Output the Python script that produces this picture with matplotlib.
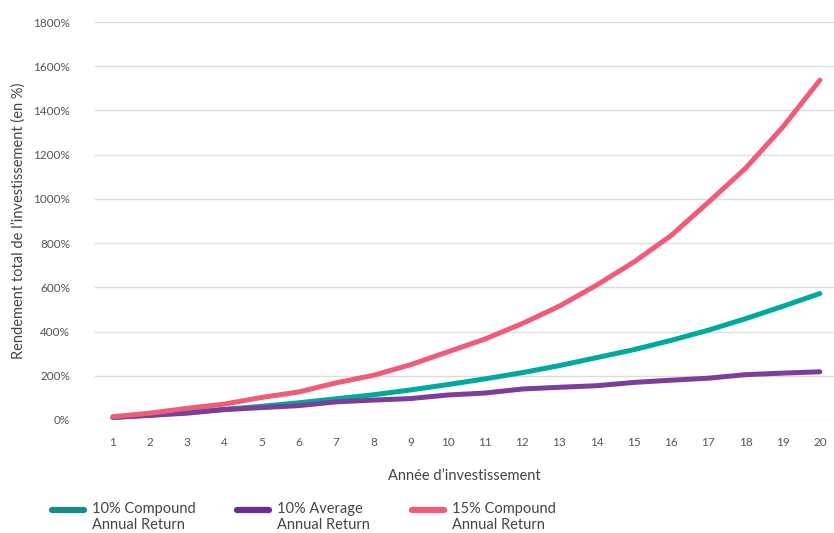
import matplotlib; matplotlib.use("Agg")
import matplotlib.pyplot as plt
from matplotlib.lines import Line2D

years = list(range(1, 21))
compound_10 = [12, 22, 34, 48, 62, 78, 96, 114, 136, 160, 186, 214, 246, 282, 318, 360, 406, 458, 514, 572]
average_10 = [12, 21, 31, 47, 56, 65, 82, 90, 97, 113, 122, 140, 148, 155, 170, 180, 189, 205, 212, 218]
compound_15 = [15, 31, 53, 72, 102, 127, 168, 202, 250, 308, 366, 436, 515, 610, 714, 834, 984, 1138, 1324, 1537]
labels = ["10% Compound\nAnnual Return", "10% Average\nAnnual Return", "15% Compound\nAnnual Return"]
yticks = list(range(0, 1801, 200))

line_colors = ["#00a99d", "#7b3f9a", "#ef5b78"]
legend_colors = ["#178a8a", "#6c2b8e", "#ef5b78"]

plt.rcParams["font.family"] = ["Lato", "DejaVu Sans"]
W, H = 834, 533
fig = plt.figure(figsize=(W / 100, H / 100), dpi=100)
ax = fig.add_axes([95/W, 1 - 420/H, 739/W, 398/H])

for ys, c in zip([compound_10, average_10, compound_15], line_colors):
    ax.plot(years, ys, color=c, lw=3.6, solid_capstyle="round", solid_joinstyle="round", clip_on=False, zorder=3)

ax.set_xlim(0.52, 20.38)
ax.set_ylim(0, 1800)
ax.set_xticks(years)
ax.set_yticks(yticks)
ax.set_yticklabels([f"{v}%" for v in yticks])
ax.grid(axis="y", color="#dddddd", lw=1)
ax.set_axisbelow(True)
for s in ax.spines.values():
    s.set_visible(False)
ax.tick_params(axis="both", length=0, labelsize=8.5, labelcolor="#555555")
ax.tick_params(axis="y", pad=18)
ax.tick_params(axis="x", pad=12)
ax.set_xlabel("Année d\u2019investissement", fontsize=10.5, color="#444444", labelpad=15)
ax.set_ylabel("Rendement total de l\u2019investissement (en %)", fontsize=10.5, color="#444444", labelpad=5)

# legend drawn by hand: swatch level with first text line
leg_x = [52, 237, 412]
for x0, c, lab in zip(leg_x, legend_colors, labels):
    fig.add_artist(Line2D([x0 / W, (x0 + 32) / W], [1 - 510/H] * 2, transform=fig.transFigure,
                          color=c, lw=4.5, solid_capstyle="round"))
    fig.text((x0 + 40) / W, 1 - 502/H, lab, fontsize=10.5, color="#444444", va="top", ha="left",
             linespacing=1.2)

fig.savefig("out.png", dpi=100)
